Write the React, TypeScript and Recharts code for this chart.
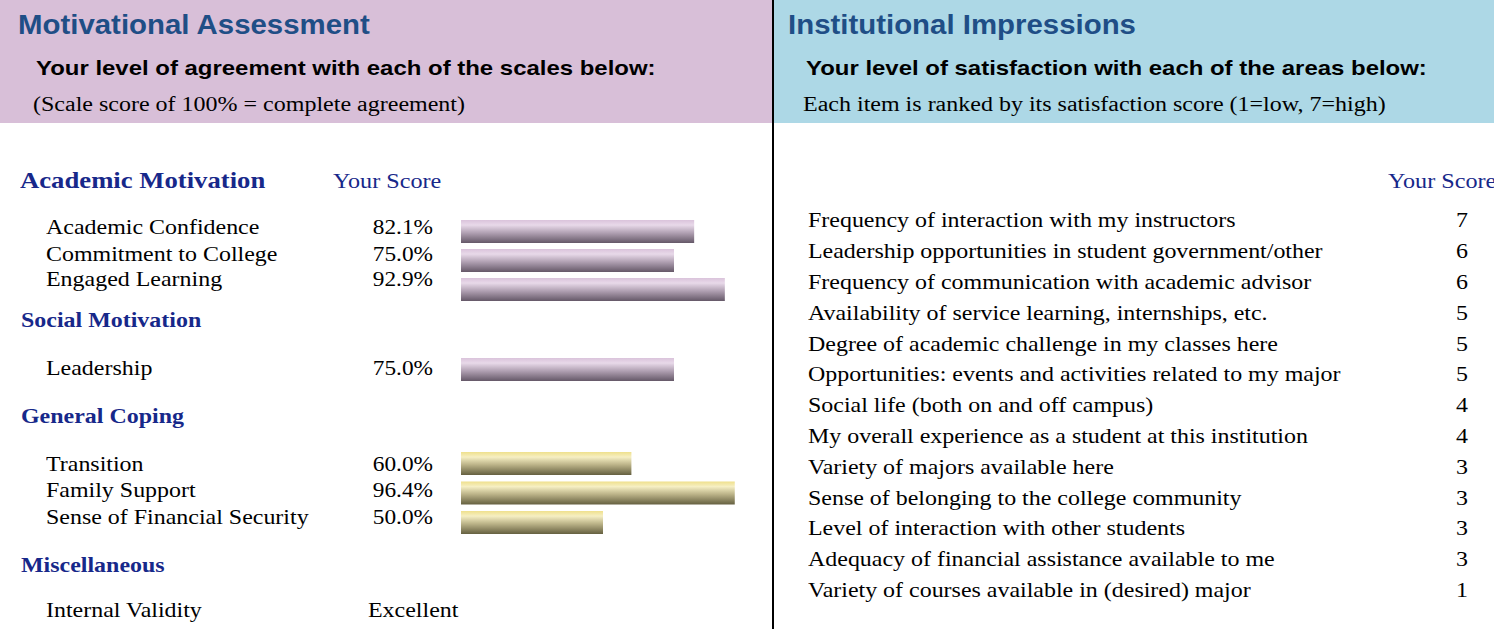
import { BarChart, Bar, XAxis, YAxis } from "recharts";

const academicNames = ["Academic Confidence", "Commitment to College", "Engaged Learning"];
const academicScores = [82.1, 75.0, 92.9];
const socialNames = ["Leadership"];
const socialScores = [75.0];
const copingNames = ["Transition", "Family Support", "Sense of Financial Security"];
const copingScores = [60.0, 96.4, 50.0];

const impressionItems = [
  "Frequency of interaction with my instructors",
  "Leadership opportunities in student government/other",
  "Frequency of communication with academic advisor",
  "Availability of service learning, internships, etc.",
  "Degree of academic challenge in my classes here",
  "Opportunities: events and activities related to my major",
  "Social life (both on and off campus)",
  "My overall experience as a student at this institution",
  "Variety of majors available here",
  "Sense of belonging to the college community",
  "Level of interaction with other students",
  "Adequacy of financial assistance available to me",
  "Variety of courses available in (desired) major",
];
const impressionScores = [7, 6, 6, 5, 5, 5, 4, 4, 3, 3, 3, 3, 1];

const SERIF = '"Liberation Serif", "Times New Roman", serif';
const SANS = '"Liberation Sans", Arial, sans-serif';
const NAVY = "#17288a";
const TITLE = "#1f4e86";

// text placed by its vertical centre, stretched sideways like the pdf render
function T({ x, cy, size, sx = 1.14, right = false, children, style }: any) {
  return (
    <div
      style={{
        position: "absolute",
        left: x,
        top: cy - size * 0.6,
        fontSize: size,
        lineHeight: `${size * 1.2}px`,
        whiteSpace: "nowrap",
        fontFamily: SERIF,
        transform: `scaleX(${sx})`,
        transformOrigin: right ? "right center" : "left center",
        textAlign: right ? "right" : "left",
        ...style,
      }}
    >
      {children}
    </div>
  );
}

function ScoreBars({ names, scores, top, height, grad }: any) {
  const data = names.map((n: string, i: number) => ({ name: n, score: scores[i] }));
  return (
    <div style={{ position: "absolute", left: 461, top }}>
      <BarChart
        width={284}
        height={height}
        data={data}
        layout="vertical"
        margin={{ top: 0, right: 0, bottom: 0, left: 0 }}
        barCategoryGap={0}
      >
        <defs>
          <linearGradient id="gPurple" x1="0" y1="0" x2="0" y2="1">
            <stop offset="0" stopColor="#dac3db" />
            <stop offset="0.22" stopColor="#e8d9e9" />
            <stop offset="0.55" stopColor="#b2a2b4" />
            <stop offset="1" stopColor="#655868" />
          </linearGradient>
          <linearGradient id="gYellow" x1="0" y1="0" x2="0" y2="1">
            <stop offset="0" stopColor="#efe08c" />
            <stop offset="0.22" stopColor="#f6efc3" />
            <stop offset="0.55" stopColor="#bcb489" />
            <stop offset="1" stopColor="#656040" />
          </linearGradient>
        </defs>
        <XAxis type="number" domain={[0, 100]} hide />
        <YAxis type="category" dataKey="name" hide />
        <Bar dataKey="score" fill={`url(#${grad})`} barSize={23} isAnimationActive={false} />
      </BarChart>
    </div>
  );
}

export default function App() {
  const leftRows = [
    { names: academicNames, scores: academicScores, cys: [228, 254.5, 280] },
    { names: socialNames, scores: socialScores, cys: [369] },
    { names: copingNames, scores: copingScores, cys: [465, 491, 518] },
  ];
  return (
    <div
      style={{
        position: "absolute",
        left: 0,
        top: 0,
        width: 1494,
        height: 629,
        background: "#fff",
        overflow: "hidden",
        color: "#000",
      }}
    >
      {/* header bands */}
      <div style={{ position: "absolute", left: 0, top: 0, width: 772, height: 123, background: "#d8bfd8" }} />
      <div style={{ position: "absolute", left: 774, top: 0, width: 720, height: 123, background: "#add8e6" }} />
      <div style={{ position: "absolute", left: 772, top: 0, width: 2, height: 629, background: "#000" }} />

      <T x={18} cy={25} size={28} sx={1.05} style={{ fontFamily: SANS, fontWeight: "bold", color: TITLE }}>
        Motivational Assessment
      </T>
      <T x={36} cy={68} size={21} sx={1.14} style={{ fontFamily: SANS, fontWeight: "bold" }}>
        Your level of agreement with each of the scales below:
      </T>
      <T x={33} cy={104} size={20} sx={1.2}>(Scale score of 100% = complete agreement)</T>

      <T x={788} cy={25} size={28} sx={1.05} style={{ fontFamily: SANS, fontWeight: "bold", color: TITLE }}>
        Institutional Impressions
      </T>
      <T x={806} cy={68} size={21} sx={1.14} style={{ fontFamily: SANS, fontWeight: "bold" }}>
        Your level of satisfaction with each of the areas below:
      </T>
      <T x={803} cy={104} size={20} sx={1.2}>Each item is ranked by its satisfaction score (1=low, 7=high)</T>

      {/* left panel */}
      <T x={20} cy={181} size={23} sx={1.16} style={{ fontWeight: "bold", color: NAVY }}>Academic Motivation</T>
      <T x={333} cy={182} size={21} sx={1.15} style={{ color: NAVY }}>Your Score</T>
      <T x={21} cy={321} size={21} style={{ fontWeight: "bold", color: NAVY }}>Social Motivation</T>
      <T x={21} cy={417} size={21} style={{ fontWeight: "bold", color: NAVY }}>General Coping</T>
      <T x={21} cy={566} size={21} style={{ fontWeight: "bold", color: NAVY }}>Miscellaneous</T>
      <T x={46} cy={611} size={21}>Internal Validity</T>
      <T x={368} cy={611} size={21}>Excellent</T>

      {leftRows.map((g) =>
        g.names.map((n, i) => (
          <div key={n}>
            <T x={46} cy={g.cys[i]} size={21}>{n}</T>
            <T x={333} cy={g.cys[i]} size={21} sx={1.11} right style={{ width: 100 }}>
              {g.scores[i].toFixed(1)}%
            </T>
          </div>
        ))
      )}

      <ScoreBars names={academicNames} scores={academicScores} top={216.5} height={87} grad="gPurple" />
      <ScoreBars names={socialNames} scores={socialScores} top={355} height={29} grad="gPurple" />
      <ScoreBars names={copingNames} scores={copingScores} top={449} height={88.5} grad="gYellow" />

      {/* right panel */}
      <T x={1388} cy={182} size={21} sx={1.15} style={{ color: NAVY }}>Your Score</T>
      {impressionItems.map((it, i) => (
        <div key={it}>
          <T x={808} cy={221 + i * 30.8} size={21}>{it}</T>
          <T x={1438} cy={221 + i * 30.8} size={21} right style={{ width: 30 }}>
            {impressionScores[i]}
          </T>
        </div>
      ))}
    </div>
  );
}
